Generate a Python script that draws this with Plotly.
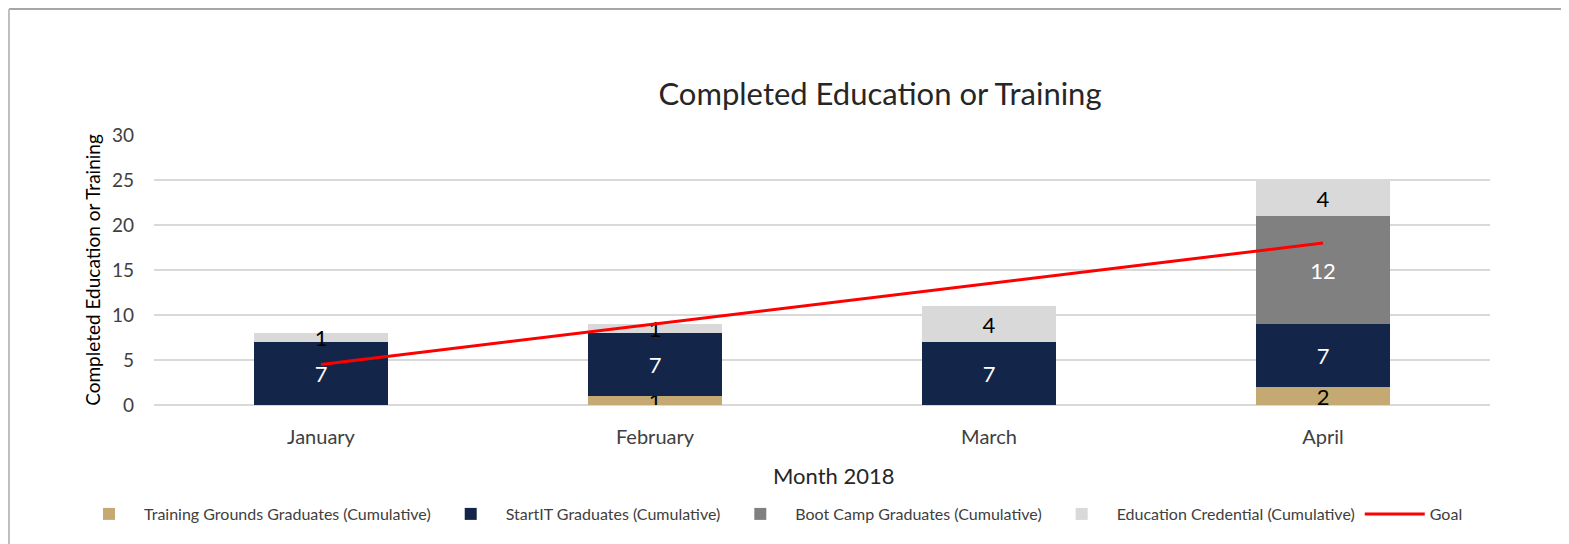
import plotly.graph_objects as go

months = ["January", "February", "March", "April"]
training_grounds = [0, 1, 0, 2]
startit = [7, 7, 7, 7]
boot_camp = [0, 0, 0, 12]
edu_credential = [1, 1, 4, 4]
goal = [4.5, 9, 13.5, 18]

FONT = "Lato"
W, H = 1569, 544
# page body has an 8px offset; margins compensate
ML, MR, MT, MB = 146, 87, 127, 147
PW, PH = W - ML - MR, H - MT - MB

def lbl(vals):
    return [str(v) if v else "" for v in vals]

def bar(vals, name, color, tcolor):
    return go.Bar(x=months, y=vals, name=name,
                  marker=dict(color=color, line=dict(width=0)), text=lbl(vals),
                  textposition="inside", insidetextanchor="middle", textangle=0,
                  textfont=dict(color=tcolor, size=22, family=FONT))

fig = go.Figure()
fig.add_trace(bar(training_grounds, "Training Grounds Graduates (Cumulative)", "#c5a973", "black"))
fig.add_trace(bar(startit, "StartIT Graduates (Cumulative)", "#13264a", "white"))
fig.add_trace(bar(boot_camp, "Boot Camp Graduates (Cumulative)", "#808080", "white"))
fig.add_trace(bar(edu_credential, "Education Credential (Cumulative)", "#d9d9d9", "black"))
fig.add_trace(go.Scatter(x=months, y=goal, name="Goal", mode="lines",
                         line=dict(color="#ff0000", width=3)))

bx = (1 - ML) / PW
by = (H - MB - 1) / PH

fig.update_layout(
    width=W, height=H,
    barmode="stack", bargap=0.6,
    paper_bgcolor="white", plot_bgcolor="white",
    margin=dict(l=ML, r=MR, t=MT, b=MB),
    font=dict(family=FONT, color="#262626"),
    uniformtext=dict(minsize=22, mode="show"),
    title=dict(text="Completed Education or Training", x=(880 - 8 - ML) / PW, xref="paper",
               xanchor="center", y=1 - 86 / H, yref="container", yanchor="middle",
               font=dict(size=31, family=FONT, color="#262626")),
    xaxis=dict(showgrid=False, showline=False, ticks="", tickfont=dict(size=20, color="#404040"),
               ticklabelstandoff=18),
    yaxis=dict(range=[0, 30], dtick=5, showgrid=True, gridcolor="#d9d9d9", gridwidth=2,
               zeroline=True, zerolinecolor="#d9d9d9", zerolinewidth=2, showline=False,
               tickfont=dict(size=19, color="#404040"), ticks="", ticklabelstandoff=19,
               title=dict(text="Completed Education or Training", font=dict(size=19, color="#000000"),
                          standoff=6)),
    legend=dict(orientation="h", x=(66 - ML) / PW, xanchor="left", y=(397 - 506) / PH,
                yanchor="middle", font=dict(size=16, color="#404040"), itemwidth=60,
                traceorder="normal"),
    annotations=[dict(text="Month 2018", xref="paper", yref="paper",
                      x=(834 - 8 - ML) / PW, y=(397 - 467) / PH, xanchor="center", yanchor="middle",
                      showarrow=False, font=dict(size=22, color="#262626", family=FONT))],
    shapes=[dict(type="line", xref="paper", yref="paper", x0=bx, x1=1.2, y0=by, y1=by,
                 line=dict(color="#a6a6a6", width=2)),
            dict(type="line", xref="paper", yref="paper", x0=bx, x1=bx, y0=by, y1=-1,
                 line=dict(color="#bfbfbf", width=2))],
)

fig.write_html("out.html")
